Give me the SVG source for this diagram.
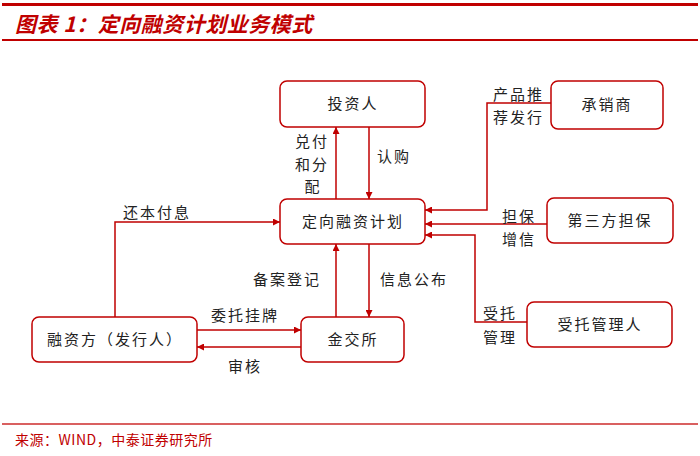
<svg xmlns="http://www.w3.org/2000/svg" width="700" height="456" viewBox="0 0 700 456">
<style>
.box{fill:#fff;stroke:#C00000;stroke-width:1.5}
.t{font-family:"Noto Sans CJK SC","Noto Sans",sans-serif;font-size:15px;fill:#222;text-anchor:middle;letter-spacing:2px}
.l{font-family:"Noto Sans CJK SC","Noto Sans",sans-serif;font-size:15px;fill:#222;letter-spacing:2px}
.c{fill:none;stroke:#C00000;stroke-width:1.5}
</style>
<defs>
<marker id="a" viewBox="0 0 10 10" refX="10" refY="5" markerWidth="7" markerHeight="7" orient="auto" markerUnits="userSpaceOnUse">
<path d="M0,0 L10,5 L0,10 z" fill="#C00000"/>
</marker>
</defs>
<rect x="2" y="3" width="696" height="3" fill="#C00000"/>
<text x="15" y="32" font-family="'Noto Sans CJK SC','Noto Sans',sans-serif" font-size="21" font-weight="bold" font-style="italic" letter-spacing="0.5" fill="#C00000">图表 1：定向融资计划业务模式</text>
<rect x="2" y="39" width="696" height="2" fill="#C00000"/>

<g id="connectors">
<path class="c" d="M336,199 V127" marker-end="url(#a)"/>
<path class="c" d="M369,127 V199" marker-end="url(#a)"/>
<path class="c" d="M551,103 H487 V210 H425" marker-end="url(#a)"/>
<path class="c" d="M547,224 H425" marker-end="url(#a)"/>
<path class="c" d="M527,322 H475 V235 H425" marker-end="url(#a)"/>
<path class="c" d="M115,317 V222 H280" marker-end="url(#a)"/>
<path class="c" d="M336,317 V244" marker-end="url(#a)"/>
<path class="c" d="M369,244 V317" marker-end="url(#a)"/>
<path class="c" d="M197,330 H301" marker-end="url(#a)"/>
<path class="c" d="M301,347 H197" marker-end="url(#a)"/>
<text class="l" x="312" y="147" text-anchor="middle">兑付</text>
<text class="l" x="312" y="170" text-anchor="middle">和分</text>
<text class="l" x="313" y="192" font-size="13" text-anchor="middle">配</text>
<text class="l" x="377" y="162">认购</text>
<text class="l" x="493" y="100">产品推</text>
<text class="l" x="493" y="123">荐发行</text>
<text class="l" x="502" y="222">担保</text>
<text class="l" x="502" y="245">增信</text>
<text class="l" x="483" y="319">受托</text>
<text class="l" x="483" y="343">管理</text>
<text class="l" x="123" y="218">还本付息</text>
<text class="l" x="253" y="285">备案登记</text>
<text class="l" x="380" y="285">信息公布</text>
<text class="l" x="211" y="321">委托挂牌</text>
<text class="l" x="228" y="372">审核</text>
</g>

<g id="investor"><rect class="box" x="280" y="81" width="145" height="46" rx="7"/><text class="t" x="353" y="109">投资人</text></g>
<g id="underwriter"><rect class="box" x="551" y="81" width="112" height="48" rx="7"/><text class="t" x="607" y="110">承销商</text></g>
<g id="plan"><rect class="box" x="280" y="199" width="145" height="45" rx="7"/><text class="t" x="353" y="227">定向融资计划</text></g>
<g id="guarantor"><rect class="box" x="547" y="198" width="126" height="45" rx="7"/><text class="t" x="610" y="226">第三方担保</text></g>
<g id="issuer"><rect class="box" x="32" y="317" width="165" height="45" rx="7"/><text class="t" x="115" y="345">融资方（发行人）</text></g>
<g id="exchange"><rect class="box" x="301" y="317" width="103" height="45" rx="7"/><text class="t" x="353" y="345">金交所</text></g>
<g id="trustee"><rect class="box" x="527" y="302" width="145" height="45" rx="7"/><text class="t" x="600" y="330">受托管理人</text></g>

<rect x="2" y="423" width="696" height="2" fill="#D96060"/>
<text x="15" y="445" font-family="'Noto Sans CJK SC','Noto Sans',sans-serif" font-size="14" letter-spacing="0.5" fill="#C00000">来源：WIND，中泰证券研究所</text>
</svg>
